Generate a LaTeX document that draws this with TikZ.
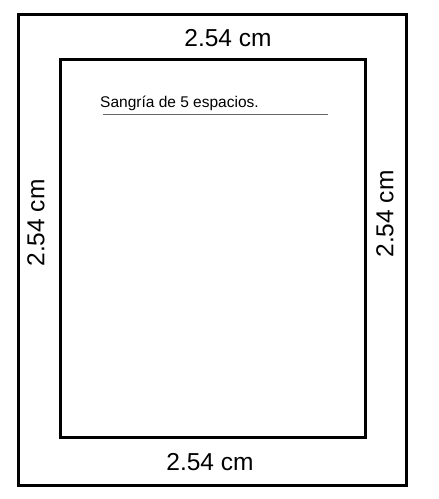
\documentclass[tikz,border=0pt]{standalone}
\usepackage{fontspec}
\setmainfont{Liberation Sans}
\begin{document}
\begin{tikzpicture}[x=1pt,y=-1pt,
  frame/.style={draw=black,line width=3pt},
  dim/.style={font=\fontsize{24.5}{26}\selectfont,inner sep=0pt},
  note/.style={font=\fontsize{15.5}{17}\selectfont,inner sep=0pt,anchor=base west}]
\useasboundingbox (0,0) rectangle (439,499);
\draw[frame] (18,14) rectangle (406,485);
\draw[frame] (60,59) rectangle (365,437);
\node[dim] (top) at (228,38) {2.54 cm};
\node[dim] (bottom) at (210,462) {2.54 cm};
\node[dim,rotate=90] (left) at (36,223) {2.54 cm};
\node[dim,rotate=90] (right) at (385,214) {2.54 cm};
\node[note] (sang) at (100,107) {Sangría de 5 espacios.};
\draw[draw=black!60,line width=1pt] (103,114) -- (328,114);
\end{tikzpicture}
\end{document}
